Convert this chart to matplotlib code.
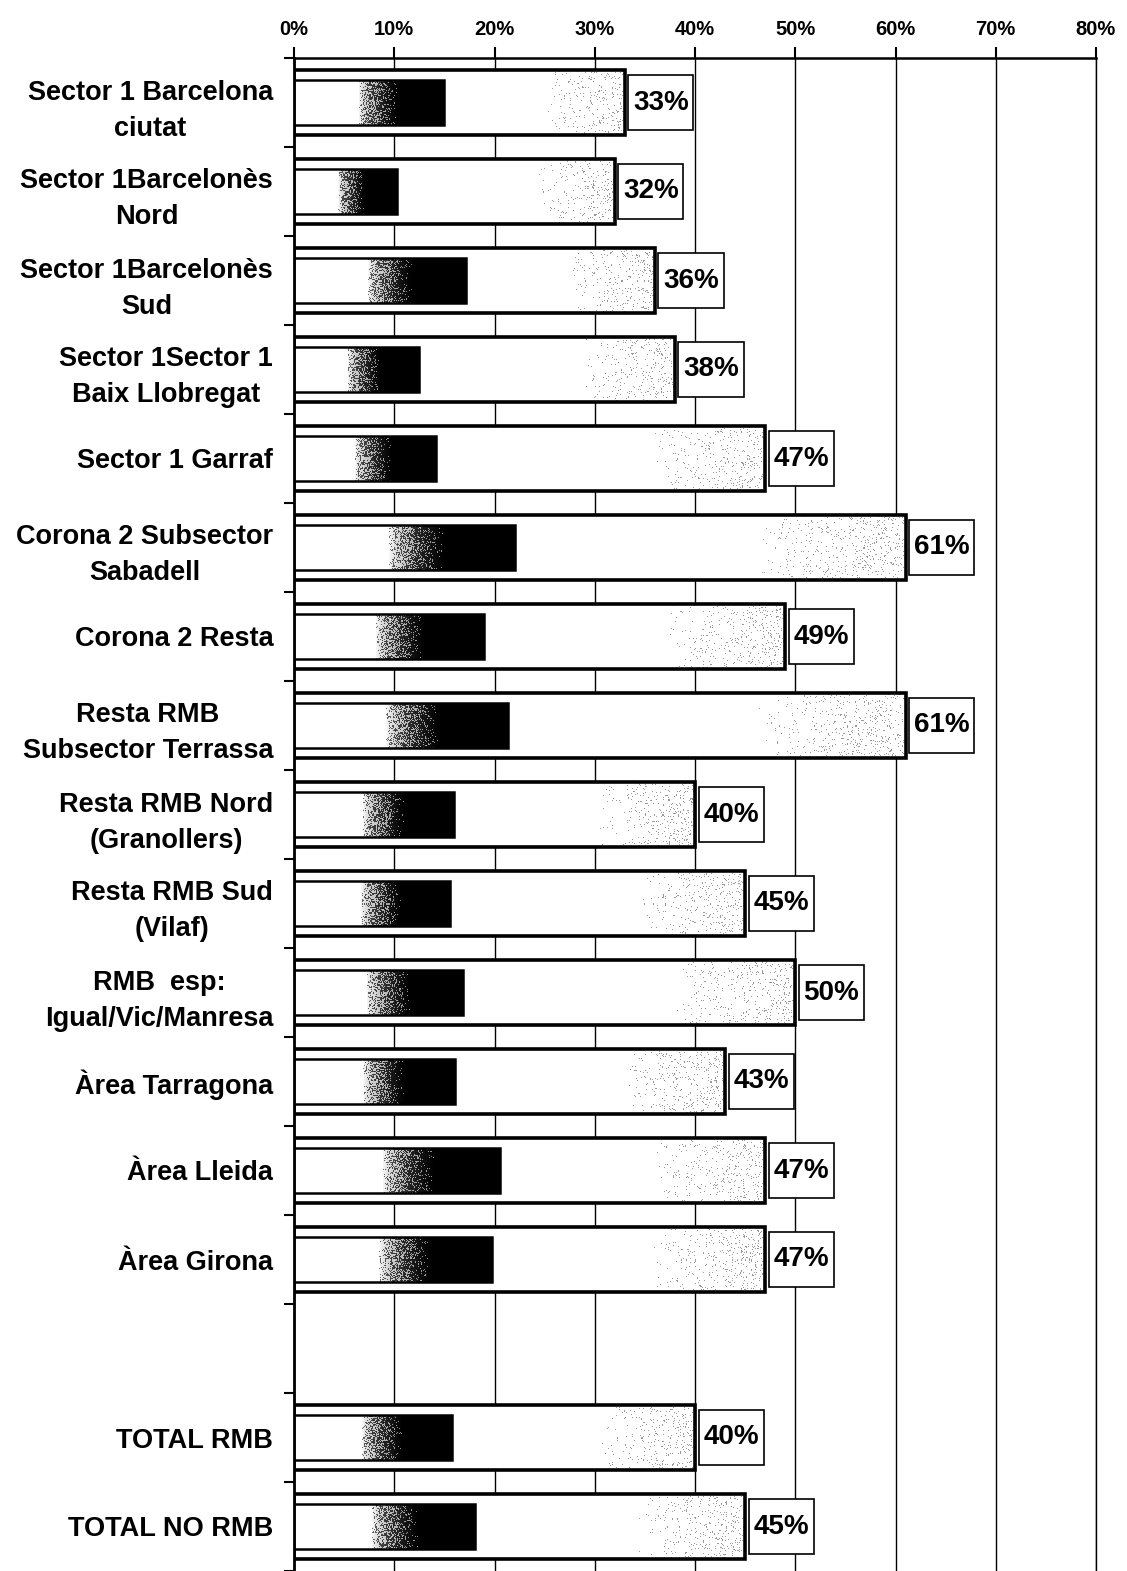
import numpy as np
import matplotlib
matplotlib.use("Agg")
import matplotlib.pyplot as plt
from matplotlib.patches import Rectangle

plt.rcParams["font.family"] = ["Liberation Sans", "DejaVu Sans"]

categories = [
    "Sector 1 Barcelona\nciutat",
    "Sector 1Barcelonès\nNord",
    "Sector 1Barcelonès\nSud",
    "Sector 1Sector 1\nBaix Llobregat",
    "Sector 1 Garraf",
    "Corona 2 Subsector\nSabadell",
    "Corona 2 Resta",
    "Resta RMB\nSubsector Terrassa",
    "Resta RMB Nord\n(Granollers)",
    "Resta RMB Sud\n(Vilaf)",
    "RMB  esp:\nIgual/Vic/Manresa",
    "Àrea Tarragona",
    "Àrea Lleida",
    "Àrea Girona",
    "",
    "TOTAL RMB",
    "TOTAL NO RMB",
]
total_pct = np.array([33, 32, 36, 38, 47, 61, 49, 61, 40, 45, 50, 43, 47, 47,
                      np.nan, 40, 45], dtype=float)
inner_pct = np.array([15.0, 10.3, 17.2, 12.5, 14.2, 22.0, 19.0, 21.3, 16.0, 15.6,
                      16.9, 16.1, 20.5, 19.8, np.nan, 15.8, 18.1], dtype=float)
xticks = list(range(0, 81, 10))

W, H = 1127, 1571
fig = plt.figure(figsize=(W / 100, H / 100), dpi=100)
ax = fig.add_axes([294 / W, 0.0, (1096 - 294) / W, (H - 58) / H])

n = len(categories)
y = np.arange(n)
xpx = (1096 - 294) / 80.0
ypx = (H - 58) / n
outer_h, inner_h = 0.72, 0.50

rng = np.random.default_rng(7)


def stipple(v, h, ramp, dot, soft=0.0):
    cols = max(int(round(v * xpx)), 1)
    rows = max(int(round(h * ypx)), 1)
    t = (np.arange(cols) + 0.5) / cols
    p = np.broadcast_to(ramp(t)[None, :], (rows, cols))
    mask = rng.random((rows, cols)) < p
    val = np.where(mask, dot, 1.0)
    # blend the dots with a smooth tone so the grain reads finer
    val = (1 - soft) * val + soft * (1 - p * (1 - dot))
    return np.repeat(val[:, :, None], 3, axis=2)


def outer_ramp(t):
    return 0.09 * np.clip((t - 0.76) / 0.24, 0, 1) ** 0.7


def inner_ramp(t):
    return np.clip((t - 0.43) / 0.25, 0, 1) ** 0.6


for i in y:
    v, w = total_pct[i], inner_pct[i]
    if np.isnan(v):
        continue
    ax.imshow(stipple(v, outer_h, outer_ramp, 0.6),
              extent=(0, v, i + outer_h / 2, i - outer_h / 2),
              aspect="auto", interpolation="nearest", zorder=2)
    ax.imshow(stipple(w, inner_h, inner_ramp, 0.0, soft=0.45),
              extent=(0, w, i + inner_h / 2, i - inner_h / 2),
              aspect="auto", interpolation="nearest", zorder=3)
    # value label in a framed box
    ax.add_patch(Rectangle((v + 0.35, i - 0.31), 6.5, 0.62, facecolor="white",
                           edgecolor="black", lw=1.2, zorder=6))
    ax.text(v + 0.35 + 3.25, i, f"{v:.0f}%", ha="center", va="center",
            fontsize=20, fontweight="bold", zorder=7)

ax.barh(y, inner_pct, height=inner_h, color="none", edgecolor="black",
        lw=1.8, zorder=4)
ax.barh(y, total_pct, height=outer_h, color="none", edgecolor="black",
        lw=2.6, zorder=5)

ax.set_xlim(0, 80)
ax.set_ylim(n - 0.5, -0.5)

ax.grid(axis="x", color="black", lw=1.0)
ax.set_axisbelow(True)

ax.xaxis.set_ticks_position("top")
ax.set_xticks(xticks)
ax.set_xticklabels([f"{t}%" for t in xticks], fontsize=14.5, fontweight="bold")
ax.tick_params(axis="x", length=8, width=1.5, pad=6)

ax.set_yticks(y)
ax.set_yticklabels(categories, fontsize=19.5, fontweight="bold",
                   multialignment="center", linespacing=1.5)
ax.tick_params(axis="y", which="major", length=0, pad=15)
ax.set_yticks(np.arange(-0.5, n, 1), minor=True)
ax.tick_params(axis="y", which="minor", length=7, width=1.5)

ax.spines["left"].set_linewidth(2)
ax.spines["top"].set_linewidth(1.8)
ax.spines["right"].set_linewidth(1.0)
ax.spines["bottom"].set_visible(False)

fig.savefig("out.png", dpi=100)
